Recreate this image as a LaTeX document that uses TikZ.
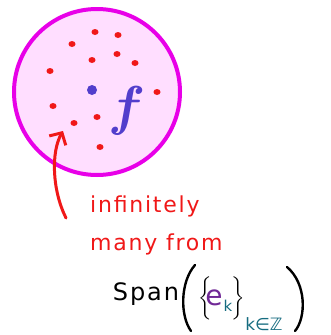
\documentclass[tikz,border=0pt]{standalone}
\usepackage{amsmath,amssymb}
\usepackage{fontspec}
\usetikzlibrary{arrows.meta,calc,positioning}
\newfontfamily\handfont[LetterSpace=8]{DejaVu Sans}
\newfontfamily\plainfont{DejaVu Sans}
\definecolor{ballrim}{RGB}{232,0,232}
\definecolor{ballfill}{RGB}{255,222,255}
\definecolor{dotred}{RGB}{240,24,24}
\definecolor{fblue}{RGB}{82,62,204}
\definecolor{epurple}{RGB}{112,40,150}
\definecolor{kteal}{RGB}{22,108,128}
\tikzset{>=Stealth}

\begin{document}
\begin{tikzpicture}[x=1pt,y=-1pt,
    note/.style={dotred,anchor=base west,inner sep=0pt,
      font=\handfont\fontsize{22}{26}\selectfont},
    spanword/.style={black,inner sep=0pt,
      font=\handfont\fontsize{24}{28}\selectfont},
    paren/.style={black,line width=2.4pt,line cap=round},
    brace/.style={inner sep=0pt,font=\boldmath\fontsize{18}{22}\selectfont}]
  \useasboundingbox (0,0) rectangle (331,335);

  % The ball with its points
  \filldraw[ballrim,fill=ballfill,line width=4pt]
    (97,92) circle (83);
  \foreach \px/\py in {95/32,118/35,72/44,92/60,117/54,135/63,
                       50/71,157/92,53/106,97/117,74/123,100/147}
    \fill[dotred] (\px,\py) ellipse (3.5 and 3);
  \fill[fblue] (92,90) circle (5);
  \node[fblue,inner sep=0pt,scale=2.2,
        font=\boldmath\fontsize{24.88}{30}\selectfont]
    (fname) at (127,111) {$f$};

  % Pointer from the note
  \coordinate (tail) at (66,218);
  \coordinate (tip) at (63,131);
  \draw[-{Straight Barb[length=9pt,width=19pt]},dotred,
        line width=3pt,line cap=round]
    (tail) .. controls (52,190) and (51,152) .. (tip);

  \node[note] (line1) at (90,212) {infinitely};
  \node[note] (line2) at (90,250) {many from};

  % Span of the basis
  \node[spanword] (span) at (146,294) {Span};
  \draw[paren] (195,265) .. controls (180,282) and (180,316) .. (191,331);
  \draw[paren] (287,267) .. controls (307,284) and (306,318) .. (295,331);
  \node[brace] (lbrace) at (205,298) {$\bigg\{$};
  \node[epurple,inner sep=0pt,font=\plainfont\fontsize{28}{30}\selectfont]
    (evec) at (214,298) {e};
  \node[kteal,inner sep=0pt,font=\plainfont\fontsize{15}{17}\selectfont]
    (kidx) at (228,306) {k};
  \node[brace] (rbrace) at (238,298) {$\bigg\}$};
  \node[kteal,inner sep=0pt,font=\plainfont\fontsize{17}{19}\selectfont]
    (kset) at (264,324) {k∈ℤ};
\end{tikzpicture}
\end{document}
